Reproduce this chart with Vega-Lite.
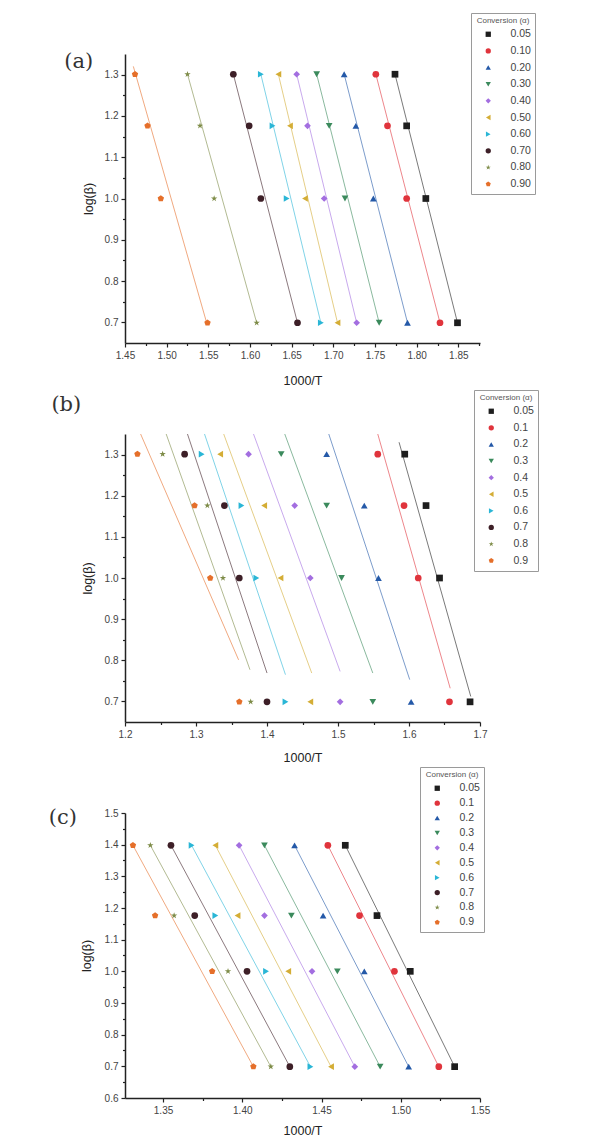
{
  "$schema": "https://vega.github.io/schema/vega-lite/v6.json",
  "background": "white",
  "padding": {"left": 48, "top": 12, "right": 0, "bottom": 0},
  "spacing": 2,
  "resolve": {"scale": {"color": "independent", "shape": "independent", "stroke": "independent", "x": "independent", "y": "independent"}, "legend": {"color": "independent", "shape": "independent", "stroke": "independent"}},
  "config": {
    "view": {"stroke": null},
    "axis": {
      "domainColor": "#222", "domainWidth": 1.5, "tickColor": "#222", "tickWidth": 1.2, "tickSize": 4,
      "labelPadding": 3, "labelFont": "Liberation Sans", "labelFontSize": 10, "labelColor": "#444",
      "titleFont": "Liberation Sans", "titleFontSize": 12.5, "titleFontWeight": "normal", "titleColor": "#222",
      "grid": false, "labelFlush": false, "labelOverlap": false
    },
    "legend": {
      "titleFont": "Liberation Sans", "titleFontSize": 8, "titleFontWeight": "normal", "titleColor": "#555",
      "titleAnchor": "middle", "titlePadding": 4, "labelFont": "Liberation Sans", "labelFontSize": 10.5,
      "labelColor": "#444", "labelOffset": 17, "symbolOffset": 8, "symbolSize": 28, "symbolStrokeWidth": 0,
      "padding": 4, "strokeColor": "#9a9a9a", "fillColor": "white"
    }
  },
  "datasets": {
    "a_pts": [
      {"c": "0.05", "x": 1.774, "y": 1.301}, {"c": "0.05", "x": 1.788, "y": 1.176}, {"c": "0.05", "x": 1.811, "y": 1.0}, {"c": "0.05", "x": 1.849, "y": 0.699},
      {"c": "0.10", "x": 1.751, "y": 1.301}, {"c": "0.10", "x": 1.765, "y": 1.176}, {"c": "0.10", "x": 1.788, "y": 1.0}, {"c": "0.10", "x": 1.828, "y": 0.699},
      {"c": "0.20", "x": 1.713, "y": 1.301}, {"c": "0.20", "x": 1.727, "y": 1.176}, {"c": "0.20", "x": 1.748, "y": 1.0}, {"c": "0.20", "x": 1.789, "y": 0.699},
      {"c": "0.30", "x": 1.680, "y": 1.301}, {"c": "0.30", "x": 1.695, "y": 1.176}, {"c": "0.30", "x": 1.714, "y": 1.0}, {"c": "0.30", "x": 1.755, "y": 0.699},
      {"c": "0.40", "x": 1.656, "y": 1.301}, {"c": "0.40", "x": 1.669, "y": 1.176}, {"c": "0.40", "x": 1.689, "y": 1.0}, {"c": "0.40", "x": 1.728, "y": 0.699},
      {"c": "0.50", "x": 1.634, "y": 1.301}, {"c": "0.50", "x": 1.648, "y": 1.176}, {"c": "0.50", "x": 1.666, "y": 1.0}, {"c": "0.50", "x": 1.705, "y": 0.699},
      {"c": "0.60", "x": 1.613, "y": 1.301}, {"c": "0.60", "x": 1.627, "y": 1.176}, {"c": "0.60", "x": 1.644, "y": 1.0}, {"c": "0.60", "x": 1.685, "y": 0.699},
      {"c": "0.70", "x": 1.580, "y": 1.301}, {"c": "0.70", "x": 1.599, "y": 1.176}, {"c": "0.70", "x": 1.613, "y": 1.0}, {"c": "0.70", "x": 1.657, "y": 0.699},
      {"c": "0.80", "x": 1.525, "y": 1.301}, {"c": "0.80", "x": 1.540, "y": 1.176}, {"c": "0.80", "x": 1.557, "y": 1.0}, {"c": "0.80", "x": 1.608, "y": 0.699},
      {"c": "0.90", "x": 1.462, "y": 1.301}, {"c": "0.90", "x": 1.477, "y": 1.176}, {"c": "0.90", "x": 1.493, "y": 1.0}, {"c": "0.90", "x": 1.549, "y": 0.699}
    ],
    "a_fit": [
      {"c": "0.05", "x": 1.774, "y": 1.301}, {"c": "0.05", "x": 1.849, "y": 0.699},
      {"c": "0.10", "x": 1.751, "y": 1.301}, {"c": "0.10", "x": 1.828, "y": 0.699},
      {"c": "0.20", "x": 1.713, "y": 1.301}, {"c": "0.20", "x": 1.789, "y": 0.699},
      {"c": "0.30", "x": 1.680, "y": 1.301}, {"c": "0.30", "x": 1.755, "y": 0.699},
      {"c": "0.40", "x": 1.656, "y": 1.301}, {"c": "0.40", "x": 1.728, "y": 0.699},
      {"c": "0.50", "x": 1.634, "y": 1.301}, {"c": "0.50", "x": 1.705, "y": 0.699},
      {"c": "0.60", "x": 1.613, "y": 1.301}, {"c": "0.60", "x": 1.685, "y": 0.699},
      {"c": "0.70", "x": 1.580, "y": 1.301}, {"c": "0.70", "x": 1.657, "y": 0.699},
      {"c": "0.80", "x": 1.525, "y": 1.301}, {"c": "0.80", "x": 1.608, "y": 0.699},
      {"c": "0.90", "x": 1.460, "y": 1.32}, {"c": "0.90", "x": 1.548, "y": 0.699}
    ],
    "b_pts": [
      {"c": "0.05", "x": 1.594, "y": 1.301}, {"c": "0.05", "x": 1.624, "y": 1.176}, {"c": "0.05", "x": 1.643, "y": 1.0}, {"c": "0.05", "x": 1.686, "y": 0.699},
      {"c": "0.1", "x": 1.556, "y": 1.301}, {"c": "0.1", "x": 1.593, "y": 1.176}, {"c": "0.1", "x": 1.613, "y": 1.0}, {"c": "0.1", "x": 1.657, "y": 0.699},
      {"c": "0.2", "x": 1.484, "y": 1.301}, {"c": "0.2", "x": 1.537, "y": 1.176}, {"c": "0.2", "x": 1.557, "y": 1.0}, {"c": "0.2", "x": 1.603, "y": 0.699},
      {"c": "0.3", "x": 1.420, "y": 1.301}, {"c": "0.3", "x": 1.484, "y": 1.176}, {"c": "0.3", "x": 1.505, "y": 1.0}, {"c": "0.3", "x": 1.549, "y": 0.699},
      {"c": "0.4", "x": 1.374, "y": 1.301}, {"c": "0.4", "x": 1.439, "y": 1.176}, {"c": "0.4", "x": 1.461, "y": 1.0}, {"c": "0.4", "x": 1.503, "y": 0.699},
      {"c": "0.5", "x": 1.334, "y": 1.301}, {"c": "0.5", "x": 1.396, "y": 1.176}, {"c": "0.5", "x": 1.419, "y": 1.0}, {"c": "0.5", "x": 1.461, "y": 0.699},
      {"c": "0.6", "x": 1.308, "y": 1.301}, {"c": "0.6", "x": 1.364, "y": 1.176}, {"c": "0.6", "x": 1.385, "y": 1.0}, {"c": "0.6", "x": 1.426, "y": 0.699},
      {"c": "0.7", "x": 1.284, "y": 1.301}, {"c": "0.7", "x": 1.340, "y": 1.176}, {"c": "0.7", "x": 1.361, "y": 1.0}, {"c": "0.7", "x": 1.400, "y": 0.699},
      {"c": "0.8", "x": 1.253, "y": 1.301}, {"c": "0.8", "x": 1.316, "y": 1.176}, {"c": "0.8", "x": 1.338, "y": 1.0}, {"c": "0.8", "x": 1.377, "y": 0.699},
      {"c": "0.9", "x": 1.2175, "y": 1.301}, {"c": "0.9", "x": 1.298, "y": 1.176}, {"c": "0.9", "x": 1.320, "y": 1.0}, {"c": "0.9", "x": 1.361, "y": 0.699}
    ],
    "b_fit": [
      {"c": "0.05", "x": 1.586, "y": 1.33}, {"c": "0.05", "x": 1.687, "y": 0.712},
      {"c": "0.1", "x": 1.556, "y": 1.35}, {"c": "0.1", "x": 1.658, "y": 0.732},
      {"c": "0.2", "x": 1.487, "y": 1.35}, {"c": "0.2", "x": 1.601, "y": 0.753},
      {"c": "0.3", "x": 1.425, "y": 1.35}, {"c": "0.3", "x": 1.549, "y": 0.769},
      {"c": "0.4", "x": 1.381, "y": 1.35}, {"c": "0.4", "x": 1.503, "y": 0.773},
      {"c": "0.5", "x": 1.339, "y": 1.35}, {"c": "0.5", "x": 1.463, "y": 0.769},
      {"c": "0.6", "x": 1.312, "y": 1.35}, {"c": "0.6", "x": 1.426, "y": 0.765},
      {"c": "0.7", "x": 1.288, "y": 1.35}, {"c": "0.7", "x": 1.400, "y": 0.769},
      {"c": "0.8", "x": 1.258, "y": 1.35}, {"c": "0.8", "x": 1.376, "y": 0.777},
      {"c": "0.9", "x": 1.222, "y": 1.35}, {"c": "0.9", "x": 1.360, "y": 0.801}
    ],
    "c_pts": [
      {"c": "0.05", "x": 1.465, "y": 1.398}, {"c": "0.05", "x": 1.485, "y": 1.176}, {"c": "0.05", "x": 1.506, "y": 1.0}, {"c": "0.05", "x": 1.534, "y": 0.699},
      {"c": "0.1", "x": 1.454, "y": 1.398}, {"c": "0.1", "x": 1.474, "y": 1.176}, {"c": "0.1", "x": 1.496, "y": 1.0}, {"c": "0.1", "x": 1.524, "y": 0.699},
      {"c": "0.2", "x": 1.433, "y": 1.398}, {"c": "0.2", "x": 1.451, "y": 1.176}, {"c": "0.2", "x": 1.477, "y": 1.0}, {"c": "0.2", "x": 1.505, "y": 0.699},
      {"c": "0.3", "x": 1.414, "y": 1.398}, {"c": "0.3", "x": 1.431, "y": 1.176}, {"c": "0.3", "x": 1.460, "y": 1.0}, {"c": "0.3", "x": 1.487, "y": 0.699},
      {"c": "0.4", "x": 1.398, "y": 1.398}, {"c": "0.4", "x": 1.414, "y": 1.176}, {"c": "0.4", "x": 1.444, "y": 1.0}, {"c": "0.4", "x": 1.471, "y": 0.699},
      {"c": "0.5", "x": 1.383, "y": 1.398}, {"c": "0.5", "x": 1.397, "y": 1.176}, {"c": "0.5", "x": 1.429, "y": 1.0}, {"c": "0.5", "x": 1.456, "y": 0.699},
      {"c": "0.6", "x": 1.368, "y": 1.398}, {"c": "0.6", "x": 1.383, "y": 1.176}, {"c": "0.6", "x": 1.415, "y": 1.0}, {"c": "0.6", "x": 1.443, "y": 0.699},
      {"c": "0.7", "x": 1.355, "y": 1.398}, {"c": "0.7", "x": 1.370, "y": 1.176}, {"c": "0.7", "x": 1.403, "y": 1.0}, {"c": "0.7", "x": 1.430, "y": 0.699},
      {"c": "0.8", "x": 1.342, "y": 1.398}, {"c": "0.8", "x": 1.357, "y": 1.176}, {"c": "0.8", "x": 1.391, "y": 1.0}, {"c": "0.8", "x": 1.418, "y": 0.699},
      {"c": "0.9", "x": 1.331, "y": 1.398}, {"c": "0.9", "x": 1.345, "y": 1.176}, {"c": "0.9", "x": 1.381, "y": 1.0}, {"c": "0.9", "x": 1.407, "y": 0.699}
    ],
    "c_fit": [
      {"c": "0.05", "x": 1.465, "y": 1.398}, {"c": "0.05", "x": 1.534, "y": 0.699},
      {"c": "0.1", "x": 1.454, "y": 1.398}, {"c": "0.1", "x": 1.524, "y": 0.699},
      {"c": "0.2", "x": 1.433, "y": 1.398}, {"c": "0.2", "x": 1.505, "y": 0.699},
      {"c": "0.3", "x": 1.414, "y": 1.398}, {"c": "0.3", "x": 1.487, "y": 0.699},
      {"c": "0.4", "x": 1.398, "y": 1.398}, {"c": "0.4", "x": 1.471, "y": 0.699},
      {"c": "0.5", "x": 1.383, "y": 1.398}, {"c": "0.5", "x": 1.456, "y": 0.699},
      {"c": "0.6", "x": 1.368, "y": 1.398}, {"c": "0.6", "x": 1.443, "y": 0.699},
      {"c": "0.7", "x": 1.355, "y": 1.398}, {"c": "0.7", "x": 1.430, "y": 0.699},
      {"c": "0.8", "x": 1.342, "y": 1.398}, {"c": "0.8", "x": 1.418, "y": 0.699},
      {"c": "0.9", "x": 1.331, "y": 1.398}, {"c": "0.9", "x": 1.407, "y": 0.699}
    ]
  },
  "vconcat": [
    {
      "width": 355, "height": 289,
      "title": {"text": "(a)", "orient": "left", "anchor": "end", "frame": "group", "angle": 0, "offset": -40, "dy": 8, "baseline": "middle", "align": "right", "font": "DejaVu Serif", "fontSize": 21, "fontWeight": "normal", "color": "#333"},
      "resolve": {"axis": {"x": "independent", "y": "independent"}},
      "layer": [
        {
          "data": {"name": "a_fit"},
          "mark": {"type": "line", "strokeWidth": 0.8, "opacity": 0.75},
          "encoding": {
            "x": {"field": "x", "type": "quantitative", "scale": {"domain": [1.45, 1.876], "nice": false, "zero": false}, "axis": {"orient": "bottom", "values": [1.475, 1.525, 1.575, 1.625, 1.675, 1.725, 1.775, 1.825, 1.875], "labels": false, "domain": false, "title": null, "tickSize": 2.5}},
            "y": {"field": "y", "type": "quantitative", "scale": {"domain": [0.65, 1.35], "nice": false, "zero": false}, "axis": {"orient": "left", "values": [0.75, 0.85, 0.95, 1.05, 1.15, 1.25], "labels": false, "domain": false, "title": null, "tickSize": 2.5}},
            "stroke": {"field": "c", "type": "nominal", "scale": {"range": ["#1e1e1e", "#e0343c", "#2459a8", "#3b8a5c", "#a36ee0", "#d4ad35", "#2ab6d6", "#3d1f27", "#7e8c48", "#e56f2a"]}, "legend": null}
          }
        },
        {
          "data": {"name": "a_pts"},
          "mark": {"type": "point", "filled": true, "size": 45, "opacity": 1, "strokeWidth": 0},
          "encoding": {
            "x": {"field": "x", "type": "quantitative", "scale": {"domain": [1.45, 1.876], "nice": false, "zero": false}, "axis": {"orient": "bottom", "values": [1.45, 1.5, 1.55, 1.6, 1.65, 1.7, 1.75, 1.8, 1.85], "format": ".2f", "title": "1000/T", "titlePadding": 14}},
            "y": {"field": "y", "type": "quantitative", "scale": {"domain": [0.65, 1.35], "nice": false, "zero": false}, "axis": {"orient": "left", "values": [0.7, 0.8, 0.9, 1.0, 1.1, 1.2, 1.3], "format": ".1f", "title": "log(β)", "titlePadding": 9}},
            "color": {"field": "c", "type": "nominal", "title": "Conversion (α)", "scale": {"domain": ["0.05", "0.10", "0.20", "0.30", "0.40", "0.50", "0.60", "0.70", "0.80", "0.90"], "range": ["#1e1e1e", "#e0343c", "#2459a8", "#3b8a5c", "#a36ee0", "#d4ad35", "#2ab6d6", "#3d1f27", "#7e8c48", "#e56f2a"]},
              "legend": {"orient": "none", "legendX": 346, "legendY": -41, "rowPadding": 5.65}},
            "shape": {"field": "c", "type": "nominal", "title": "Conversion (α)", "scale": {"domain": ["0.05", "0.10", "0.20", "0.30", "0.40", "0.50", "0.60", "0.70", "0.80", "0.90"], "range": ["square", "circle", "triangle-up", "triangle-down", "diamond", "triangle-left", "triangle-right", "circle", "M0,-1L0.2245,-0.309L0.951,-0.309L0.363,0.118L0.588,0.809L0,0.382L-0.588,0.809L-0.363,0.118L-0.951,-0.309L-0.2245,-0.309Z", "M0,-1L0.951,-0.309L0.588,0.809L-0.588,0.809L-0.951,-0.309Z"]},
              "legend": {"orient": "none", "legendX": 346, "legendY": -41, "rowPadding": 5.65}}
          }
        }
      ]
    },
    {
      "width": 355, "height": 288,
      "title": {"text": "(b)", "orient": "left", "anchor": "end", "frame": "group", "angle": 0, "offset": -30, "dy": -29, "baseline": "middle", "align": "right", "font": "DejaVu Serif", "fontSize": 21, "fontWeight": "normal", "color": "#333"},
      "resolve": {"axis": {"x": "independent", "y": "independent"}},
      "layer": [
        {
          "data": {"name": "b_fit"},
          "mark": {"type": "line", "strokeWidth": 0.8, "opacity": 0.75},
          "encoding": {
            "x": {"field": "x", "type": "quantitative", "scale": {"domain": [1.2, 1.7], "nice": false, "zero": false}, "axis": {"orient": "bottom", "values": [1.25, 1.35, 1.45, 1.55, 1.65], "labels": false, "domain": false, "title": null, "tickSize": 2.5}},
            "y": {"field": "y", "type": "quantitative", "scale": {"domain": [0.65, 1.35], "nice": false, "zero": false}, "axis": {"orient": "left", "values": [0.75, 0.85, 0.95, 1.05, 1.15, 1.25], "labels": false, "domain": false, "title": null, "tickSize": 2.5}},
            "stroke": {"field": "c", "type": "nominal", "scale": {"range": ["#1e1e1e", "#e0343c", "#2459a8", "#3b8a5c", "#a36ee0", "#d4ad35", "#2ab6d6", "#3d1f27", "#7e8c48", "#e56f2a"]}, "legend": null}
          }
        },
        {
          "data": {"name": "b_pts"},
          "mark": {"type": "point", "filled": true, "size": 45, "opacity": 1, "strokeWidth": 0},
          "encoding": {
            "x": {"field": "x", "type": "quantitative", "scale": {"domain": [1.2, 1.7], "nice": false, "zero": false}, "axis": {"orient": "bottom", "values": [1.2, 1.3, 1.4, 1.5, 1.6, 1.7], "format": ".1f", "title": "1000/T", "titlePadding": 12.5}},
            "y": {"field": "y", "type": "quantitative", "scale": {"domain": [0.65, 1.35], "nice": false, "zero": false}, "axis": {"orient": "left", "values": [0.7, 0.8, 0.9, 1.0, 1.1, 1.2, 1.3], "format": ".1f", "title": "log(β)", "titlePadding": 10}},
            "color": {"field": "c", "type": "nominal", "title": "Conversion (α)", "scale": {"domain": ["0.05", "0.1", "0.2", "0.3", "0.4", "0.5", "0.6", "0.7", "0.8", "0.9"], "range": ["#1e1e1e", "#e0343c", "#2459a8", "#3b8a5c", "#a36ee0", "#d4ad35", "#2ab6d6", "#3d1f27", "#7e8c48", "#e56f2a"]},
              "legend": {"orient": "none", "legendX": 349, "legendY": -44, "rowPadding": 5.6}},
            "shape": {"field": "c", "type": "nominal", "title": "Conversion (α)", "scale": {"domain": ["0.05", "0.1", "0.2", "0.3", "0.4", "0.5", "0.6", "0.7", "0.8", "0.9"], "range": ["square", "circle", "triangle-up", "triangle-down", "diamond", "triangle-left", "triangle-right", "circle", "M0,-1L0.2245,-0.309L0.951,-0.309L0.363,0.118L0.588,0.809L0,0.382L-0.588,0.809L-0.363,0.118L-0.951,-0.309L-0.2245,-0.309Z", "M0,-1L0.951,-0.309L0.588,0.809L-0.588,0.809L-0.951,-0.309Z"]},
              "legend": {"orient": "none", "legendX": 349, "legendY": -44, "rowPadding": 5.6}}
          }
        }
      ]
    },
    {
      "width": 355, "height": 285,
      "title": {"text": "(c)", "orient": "left", "anchor": "end", "frame": "group", "angle": 0, "offset": -25, "dy": 5, "baseline": "middle", "align": "right", "font": "DejaVu Serif", "fontSize": 21, "fontWeight": "normal", "color": "#333"},
      "resolve": {"axis": {"x": "independent", "y": "independent"}},
      "layer": [
        {
          "data": {"name": "c_fit"},
          "mark": {"type": "line", "strokeWidth": 0.8, "opacity": 0.75},
          "encoding": {
            "x": {"field": "x", "type": "quantitative", "scale": {"domain": [1.326, 1.55], "nice": false, "zero": false}, "axis": {"orient": "bottom", "values": [1.375, 1.425, 1.475, 1.525], "labels": false, "domain": false, "title": null, "tickSize": 2.5}},
            "y": {"field": "y", "type": "quantitative", "scale": {"domain": [0.6, 1.5], "nice": false, "zero": false}, "axis": {"orient": "left", "values": [0.65, 0.75, 0.85, 0.95, 1.05, 1.15, 1.25, 1.35, 1.45], "labels": false, "domain": false, "title": null, "tickSize": 2.5}},
            "stroke": {"field": "c", "type": "nominal", "scale": {"range": ["#1e1e1e", "#e0343c", "#2459a8", "#3b8a5c", "#a36ee0", "#d4ad35", "#2ab6d6", "#3d1f27", "#7e8c48", "#e56f2a"]}, "legend": null}
          }
        },
        {
          "data": {"name": "c_pts"},
          "mark": {"type": "point", "filled": true, "size": 45, "opacity": 1, "strokeWidth": 0},
          "encoding": {
            "x": {"field": "x", "type": "quantitative", "scale": {"domain": [1.326, 1.55], "nice": false, "zero": false}, "axis": {"orient": "bottom", "values": [1.35, 1.4, 1.45, 1.5, 1.55], "format": ".2f", "title": "1000/T", "titlePadding": 9.5}},
            "y": {"field": "y", "type": "quantitative", "scale": {"domain": [0.6, 1.5], "nice": false, "zero": false}, "axis": {"orient": "left", "values": [0.6, 0.7, 0.8, 0.9, 1.0, 1.1, 1.2, 1.3, 1.4, 1.5], "format": ".1f", "title": "log(β)", "titlePadding": 11}},
            "color": {"field": "c", "type": "nominal", "title": "Conversion (α)", "scale": {"domain": ["0.05", "0.1", "0.2", "0.3", "0.4", "0.5", "0.6", "0.7", "0.8", "0.9"], "range": ["#1e1e1e", "#e0343c", "#2459a8", "#3b8a5c", "#a36ee0", "#d4ad35", "#2ab6d6", "#3d1f27", "#7e8c48", "#e56f2a"]},
              "legend": {"orient": "none", "legendX": 295, "legendY": -46, "rowPadding": 3.9}},
            "shape": {"field": "c", "type": "nominal", "title": "Conversion (α)", "scale": {"domain": ["0.05", "0.1", "0.2", "0.3", "0.4", "0.5", "0.6", "0.7", "0.8", "0.9"], "range": ["square", "circle", "triangle-up", "triangle-down", "diamond", "triangle-left", "triangle-right", "circle", "M0,-1L0.2245,-0.309L0.951,-0.309L0.363,0.118L0.588,0.809L0,0.382L-0.588,0.809L-0.363,0.118L-0.951,-0.309L-0.2245,-0.309Z", "M0,-1L0.951,-0.309L0.588,0.809L-0.588,0.809L-0.951,-0.309Z"]},
              "legend": {"orient": "none", "legendX": 295, "legendY": -46, "rowPadding": 3.9}}
          }
        }
      ]
    }
  ]
}
